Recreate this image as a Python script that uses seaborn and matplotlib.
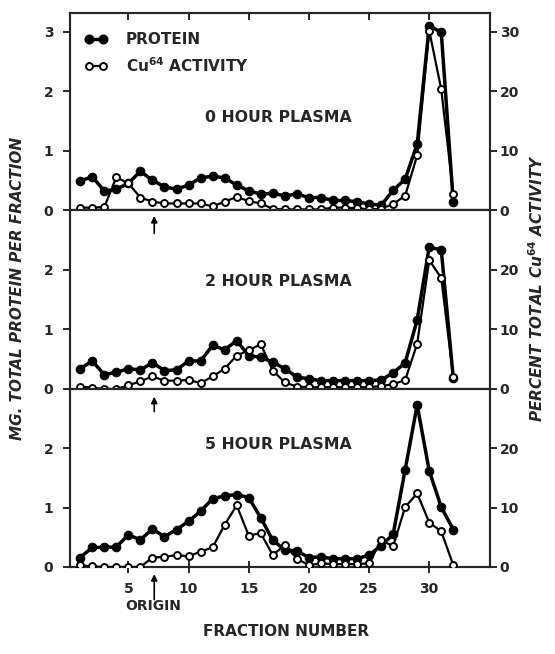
import numpy as np
import pandas as pd
import matplotlib
matplotlib.use("Agg")
import matplotlib.pyplot as plt
from matplotlib.lines import Line2D
import seaborn as sns

# ---------------- data ----------------
fractions = list(range(1, 33))

protein_0h = [0.49, 0.56, 0.32, 0.35, 0.45, 0.65, 0.50, 0.39, 0.35, 0.42, 0.54, 0.57,
              0.54, 0.42, 0.32, 0.27, 0.28, 0.24, 0.27, 0.21, 0.21, 0.16, 0.16, 0.14,
              0.10, 0.08, 0.33, 0.52, 1.11, 3.10, 2.99, 0.13]
cu_0h = [0.4, 0.4, 0.5, 5.5, 4.5, 2.1, 1.4, 1.1, 1.1, 1.1, 1.1, 0.6,
         1.4, 2.2, 1.5, 1.1, 0.2, 0.1, 0.1, 0.1, 0.1, 0.4, 0.4, 0.3,
         0.1, 0.2, 1.0, 2.4, 9.2, 30.2, 20.3, 2.7]

protein_2h = [0.34, 0.47, 0.24, 0.28, 0.34, 0.32, 0.44, 0.31, 0.32, 0.47, 0.47, 0.73,
              0.66, 0.81, 0.56, 0.53, 0.45, 0.34, 0.20, 0.17, 0.14, 0.14, 0.14, 0.14,
              0.14, 0.15, 0.27, 0.44, 1.16, 2.38, 2.33, 0.18]
cu_2h = [0.4, 0.2, 0.0, 0.0, 0.6, 1.3, 2.1, 1.4, 1.4, 1.5, 1.0, 2.1,
         3.4, 5.6, 6.5, 7.5, 3.1, 1.1, 0.4, 0.3, 0.3, 0.3, 0.3, 0.3,
         0.3, 0.5, 0.8, 1.5, 7.6, 21.6, 18.6, 2.0]

protein_5h = [0.16, 0.33, 0.33, 0.34, 0.54, 0.46, 0.64, 0.51, 0.63, 0.77, 0.94, 1.15,
              1.20, 1.22, 1.17, 0.83, 0.45, 0.29, 0.27, 0.16, 0.17, 0.14, 0.14, 0.14,
              0.20, 0.36, 0.55, 1.64, 2.73, 1.62, 1.01, 0.63]
cu_5h = [0.3, 0.1, 0.0, 0.0, 0.0, 0.0, 1.6, 1.7, 2.0, 1.8, 2.6, 3.3,
         7.1, 10.4, 5.3, 5.7, 2.0, 3.7, 1.4, 0.3, 0.6, 0.5, 0.5, 0.5,
         0.6, 4.5, 3.5, 10.1, 12.4, 7.5, 6.0, 0.3]

panel_titles = ["0 HOUR PLASMA", "2 HOUR PLASMA", "5 HOUR PLASMA"]
left_ticks = [[0, 1, 2, 3], [0, 1, 2], [0, 1, 2]]
right_ticks = [[0, 10, 20, 30], [0, 10, 20], [0, 10, 20]]
x_ticks = [5, 10, 15, 20, 25, 30]
origin_fraction = 7.15

# ---------------- style ----------------
sns.set_style("ticks")
plt.rcParams['font.family'] = ['DejaVu Sans']
plt.rcParams['font.weight'] = 'bold'
plt.rcParams['mathtext.default'] = 'bf'
plt.rcParams['axes.linewidth'] = 1.5

W, H = 555, 654
fig = plt.figure(figsize=(W / 100, H / 100), dpi=100)

def px_axes(x0, y0, x1, y1):
    return [x0 / W, 1 - y1 / H, (x1 - x0) / W, (y1 - y0) / H]

panel_px = [(70, 12.7, 490, 210), (70, 210, 490, 389), (70, 389, 490, 567)]
ytops = [3.32, 3.0, 3.0]
title_pos = [0.495, 0.471], [0.495, 0.598], [0.495, 0.691]
proteins = [protein_0h, protein_2h, protein_5h]
cus = [cu_0h, cu_2h, cu_5h]

axes = []
for i in range(3):
    ax = fig.add_axes(px_axes(*panel_px[i]))
    ax2 = ax.twinx()
    df = pd.DataFrame({"fraction": fractions, "protein": proteins[i], "cu": cus[i]})
    sns.lineplot(data=df, x="fraction", y="protein", ax=ax, color="black",
                 linewidth=2.5, marker="o", markersize=6.2, markerfacecolor="black",
                 markeredgecolor="black", legend=False, zorder=3)
    sns.lineplot(data=df, x="fraction", y="cu", ax=ax2, color="black",
                 linewidth=1.6, marker="o", markersize=5.0, markerfacecolor="white",
                 markeredgecolor="black", markeredgewidth=1.4, legend=False, zorder=4)
    for a in (ax, ax2):
        a.set_xlabel("")
        a.set_ylabel("")
        a.set_xlim(0.15, 35.05)
        for s in a.spines.values():
            s.set_linewidth(1.5)
            s.set_visible(True)
    ax.set_ylim(0, ytops[i])
    ax2.set_ylim(0, ytops[i] * 10)
    ax.set_yticks(left_ticks[i])
    ax.set_yticklabels([str(t) for t in left_ticks[i]])
    ax2.set_yticks(right_ticks[i])
    ax2.set_yticklabels([str(t) for t in right_ticks[i]])
    ax.tick_params(axis='y', direction='out', length=5, width=1.4, pad=7,
                   labelsize=10)
    ax2.tick_params(axis='y', direction='out', length=5, width=1.4, pad=2,
                    labelsize=10)
    ax.set_xticks(x_ticks)
    if i == 0:
        ax.tick_params(axis='x', bottom=False, top=True, labelbottom=False,
                       labeltop=False, direction='in', length=5, width=1.4)
    elif i == 1:
        ax.tick_params(axis='x', bottom=False, top=False, labelbottom=False,
                       labeltop=False)
    else:
        ax.set_xticklabels([str(t) for t in x_ticks])
        ax.tick_params(axis='x', bottom=True, top=False, labelbottom=True,
                       direction='inout', length=9, width=1.4, pad=6, labelsize=10)
    ax.text(title_pos[i][0], title_pos[i][1], panel_titles[i], transform=ax.transAxes,
            ha='center', va='center', fontsize=11.3, fontweight='bold')
    axes.append((ax, ax2))

# legend in top panel
ax0 = axes[0][0]
handles = [
    Line2D([], [], color='black', lw=2.5, marker='o', markersize=6.2,
           markerfacecolor='black', markeredgecolor='black'),
    Line2D([], [], color='black', lw=1.6, marker='o', markersize=5.0,
           markerfacecolor='white', markeredgecolor='black', markeredgewidth=1.4),
]
leg = ax0.legend(handles, ["PROTEIN", "Cu$^{64}$ ACTIVITY"], loc='upper left',
                 bbox_to_anchor=(0.035, 0.90), frameon=False, numpoints=2,
                 handlelength=1.5, handletextpad=1.2, labelspacing=0.55,
                 borderaxespad=0, borderpad=0, prop={'weight': 'bold', 'size': 11})

# origin arrows
arrow_kw = dict(arrowstyle='-|>', lw=1.2, color='black', mutation_scale=9,
                shrinkA=0, shrinkB=0)
axes[1][0].annotate("", xy=(origin_fraction, 2.9), xytext=(origin_fraction, 2.61),
                    arrowprops=arrow_kw)
axes[2][0].annotate("", xy=(origin_fraction, 2.87), xytext=(origin_fraction, 2.62),
                    arrowprops=arrow_kw)
axes[2][0].annotate("", xy=(origin_fraction, -0.12), xytext=(origin_fraction, -0.55),
                    arrowprops=arrow_kw, annotation_clip=False)
axes[2][0].text(origin_fraction - 0.1, -0.66, "ORIGIN", ha='center', va='center',
                fontsize=10, fontweight='bold', clip_on=False)

fig.text(286 / W, 1 - 632 / H, "FRACTION NUMBER", ha='center', va='center',
         fontsize=11, fontweight='bold')
fig.text(18 / W, 1 - 288 / H, "MG. TOTAL PROTEIN PER FRACTION", rotation=90,
         ha='center', va='center', fontsize=11, fontweight='bold', fontstyle='italic')
fig.text(537 / W, 1 - 288 / H, "PERCENT TOTAL Cu$^{64}$ ACTIVITY", rotation=90,
         ha='center', va='center', fontsize=11, fontweight='bold', fontstyle='italic')

fig.savefig("out.png", dpi=100)
